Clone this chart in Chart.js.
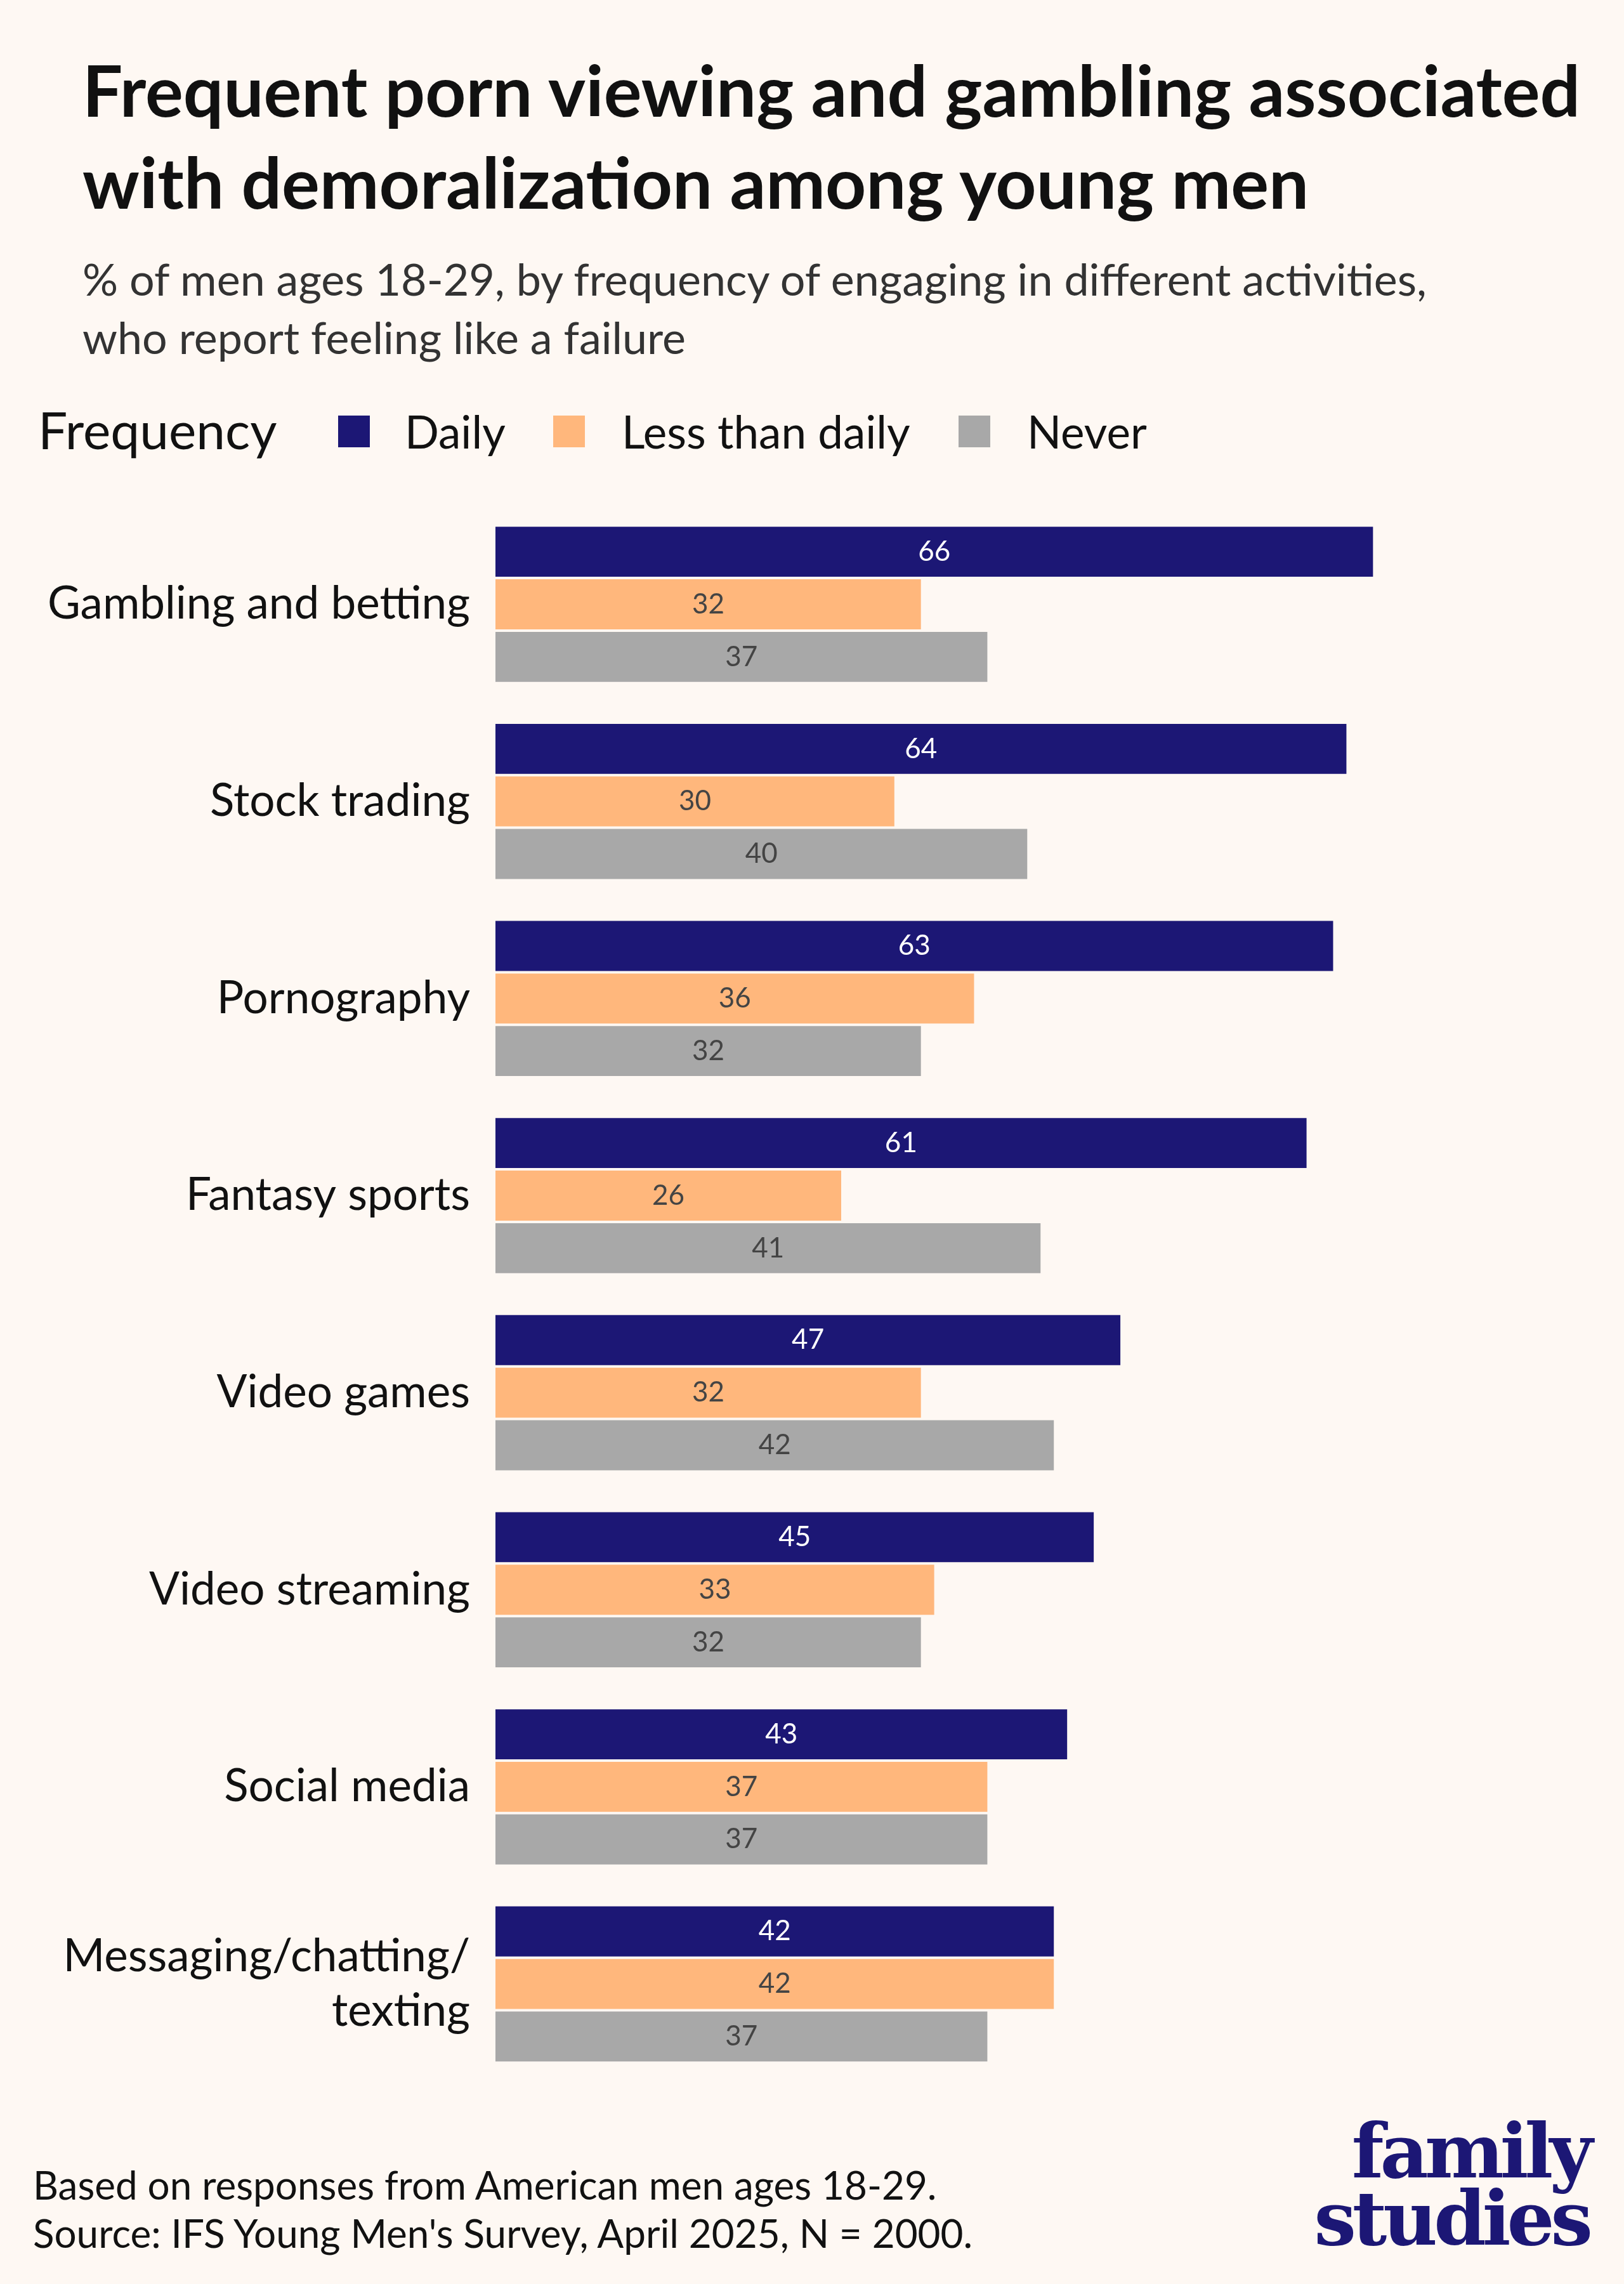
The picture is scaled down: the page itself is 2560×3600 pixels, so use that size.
<!DOCTYPE html>
<html>
<head>
<meta charset="utf-8">
<script src="https://cdn.jsdelivr.net/npm/chart.js@4.4.1/dist/chart.umd.min.js"></script>
<style>
  body { margin: 0; background: #fef8f3; font-family: Lato, sans-serif; color: #111; }
  #page { position: relative; width: 2560px; height: 3600px; overflow: hidden; }
  .abs { position: absolute; }
  #title { left: 130px; top: 68px; font-size: 112px; font-weight: 700; line-height: 145px; }
  #subtitle { left: 130px; top: 393px; font-size: 70px; line-height: 92px; color: #333; }
  .lg { position: absolute; top: 632px; font-size: 71px; line-height: 96px; }
  .sw { position: absolute; top: 655px; width: 50px; height: 50px; }
  #footer { left: 52px; top: 3405px; font-size: 62px; line-height: 76px; color: #111; }
  #logo { right: 55px; top: 3338px; font-family: "DejaVu Serif", serif; font-weight: 700; color: #1c1775; font-size: 118px; line-height: 106px; text-align: right; letter-spacing: -6px; }
  canvas { position: absolute; left: 0; top: 680px; }
</style>
</head>
<body>
<div id="page">
  <div id="title" class="abs">Frequent porn viewing and gambling associated<br>with demoralization among young men</div>
  <div id="subtitle" class="abs">% of men ages 18-29, by frequency of engaging in different activities,<br>who report feeling like a failure</div>
  <span class="lg" style="left:60px; font-size:82px; top:628px">Frequency</span>
  <span class="sw" style="left:533px; background:#1c1775"></span><span class="lg" style="left:638px">Daily</span>
  <span class="sw" style="left:872px; background:#ffb77c"></span><span class="lg" style="left:980px">Less than daily</span>
  <span class="sw" style="left:1511px; background:#a8a8a8"></span><span class="lg" style="left:1619px">Never</span>
  <canvas id="chart" width="2560" height="2677"></canvas>
  <div id="footer" class="abs">Based on responses from American men ages 18-29.<br>Source: IFS Young Men's Survey, April 2025, N = 2000.</div>
  <div id="logo" class="abs">family<br>studies</div>
</div>
<script>
const categories = ['Gambling and betting', 'Stock trading', 'Pornography', 'Fantasy sports',
  'Video games', 'Video streaming', 'Social media', ['Messaging/chatting/', 'texting']];
const daily = [66, 64, 63, 61, 47, 45, 43, 42];
const lessThanDaily = [32, 30, 36, 26, 32, 33, 37, 42];
const never = [37, 40, 32, 41, 42, 32, 37, 37];

const labelColors = ['#ffffff', '#444444', '#444444'];

const barLabels = {
  id: 'barLabels',
  afterDatasetsDraw(chart) {
    const ctx = chart.ctx;
    ctx.save();
    ctx.font = '44px Lato';
    ctx.textAlign = 'center';
    ctx.textBaseline = 'middle';
    chart.data.datasets.forEach((ds, i) => {
      ctx.fillStyle = labelColors[i];
      chart.getDatasetMeta(i).data.forEach((bar, j) => {
        ctx.fillText(ds.data[j], (bar.x + bar.base) / 2, bar.y);
      });
    });
    ctx.restore();
  }
};

new Chart(document.getElementById('chart'), {
  type: 'bar',
  data: {
    labels: categories,
    datasets: [
      { label: 'Daily', data: daily, backgroundColor: '#1c1775' },
      { label: 'Less than daily', data: lessThanDaily, backgroundColor: '#ffb77c' },
      { label: 'Never', data: never, backgroundColor: '#a8a8a8' }
    ].map(d => Object.assign(d, { borderColor: '#fef8f3', borderWidth: { top: 2, bottom: 2 }, borderSkipped: false }))
  },
  options: {
    indexAxis: 'y',
    responsive: false,
    animation: false,
    devicePixelRatio: 1,
    layout: { padding: { top: 20, bottom: 20, right: 60, left: 0 } },
    datasets: { bar: { categoryPercentage: 0.8, barPercentage: 1 } },
    plugins: { legend: { display: false }, tooltip: { enabled: false } },
    scales: {
      x: { min: 0, max: 82, display: false },
      y: {
        grid: { display: false },
        border: { display: false },
        ticks: { color: '#111', font: { family: 'Lato', size: 71 }, padding: 32 },
        afterFit(scale) { scale.width = 781; }
      }
    }
  },
  plugins: [barLabels]
});
</script>
</body>
</html>
